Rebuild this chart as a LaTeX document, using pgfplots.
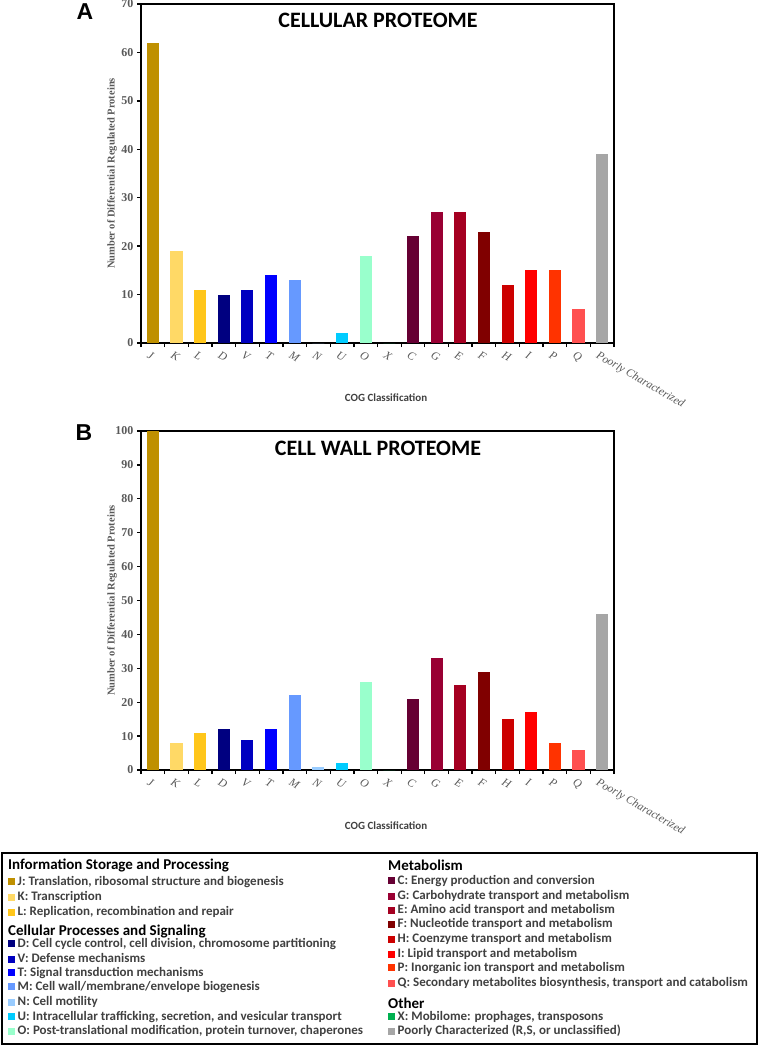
\documentclass[border=0pt]{standalone}
\usepackage{pgfplots}
\pgfplotsset{compat=1.18}
\usepackage{fontspec}
\setmainfont{Liberation Serif}
\newfontfamily\calfont{Carlito}
\newfontfamily\arialfont{Liberation Sans}

\definecolor{cJ}{HTML}{BF9000}
\definecolor{cK}{HTML}{FFD966}
\definecolor{cL}{HTML}{FFC61A}
\definecolor{cD}{HTML}{000080}
\definecolor{cV}{HTML}{0000C0}
\definecolor{cT}{HTML}{0000FF}
\definecolor{cM}{HTML}{6699FF}
\definecolor{cN}{HTML}{99CCFF}
\definecolor{cU}{HTML}{00CCFF}
\definecolor{cO}{HTML}{99FFCC}
\definecolor{cX}{HTML}{00B050}
\definecolor{cC}{HTML}{660033}
\definecolor{cG}{HTML}{990033}
\definecolor{cE}{HTML}{A50021}
\definecolor{cF}{HTML}{800000}
\definecolor{cH}{HTML}{CC0000}
\definecolor{cI}{HTML}{FF0000}
\definecolor{cP}{HTML}{FF3300}
\definecolor{cQ}{HTML}{FF5050}
\definecolor{cR}{HTML}{A6A6A6}
\definecolor{lbl}{HTML}{595959}
\definecolor{txt}{HTML}{404040}

\newcommand\cbar[3]{\addplot[ybar, bar width=0.51, bar shift=0pt, fill=#1, draw=none] coordinates {(#2,#3)};}

\pgfplotsset{
  cogaxis/.style={
    scale only axis, width=473bp, height=339bp, anchor=south west,
    xmin=-0.5, xmax=19.5, ymin=0,
    xtick={0,...,19},
    xticklabels={J,K,L,D,V,T,M,N,U,O,X,C,G,E,F,H,I,P,Q,Poorly Characterized},
    minor xtick={-0.5,0.5,...,19.5},
    every major x tick/.style={draw=none},
    tick align=outside,
    major tick length=4bp, minor tick length=4bp,
    xtick pos=bottom, ytick pos=left,
    axis line style={line width=1.8bp},
    every tick/.style={black, line width=1.3bp},
    minor tick style={black, line width=1.3bp},
    /pgf/number format/assume math mode=true,
    yticklabel style={font=\rmfamily\fontsize{12bp}{14bp}\selectfont\bfseries, text=lbl},
    xticklabel style={font=\rmfamily\fontsize{11.5bp}{13bp}\selectfont\itshape, text=lbl, rotate=-30, anchor=north west, xshift=-4bp, yshift=-1bp},
    ylabel={Number of Differential Regulated Proteins},
    ylabel style={at={(axis description cs:-0.061,0.5)}, anchor=center, font=\rmfamily\fontsize{10.5bp}{12bp}\selectfont\bfseries, text=lbl},
  }
}

\begin{document}
\begin{tikzpicture}
\useasboundingbox (0,0) rectangle (760bp,-1047bp);

% Panel A
\begin{axis}[cogaxis, at={(141bp,-343bp)}, ymax=70, ytick={0,10,...,70}]
\cbar{cJ}{0}{62}
\cbar{cK}{1}{19}
\cbar{cL}{2}{11}
\cbar{cD}{3}{10}
\cbar{cV}{4}{11}
\cbar{cT}{5}{14}
\cbar{cM}{6}{13}
\cbar{cN}{7}{0}
\cbar{cU}{8}{2}
\cbar{cO}{9}{18}
\cbar{cX}{10}{0}
\cbar{cC}{11}{22}
\cbar{cG}{12}{27}
\cbar{cE}{13}{27}
\cbar{cF}{14}{23}
\cbar{cH}{15}{12}
\cbar{cI}{16}{15}
\cbar{cP}{17}{15}
\cbar{cQ}{18}{7}
\cbar{cR}{19}{39}
\end{axis}

% Panel B
\begin{axis}[cogaxis, at={(141bp,-770bp)}, ymax=100, ytick={0,10,...,100}]
\cbar{cJ}{0}{100}
\cbar{cK}{1}{8}
\cbar{cL}{2}{11}
\cbar{cD}{3}{12}
\cbar{cV}{4}{9}
\cbar{cT}{5}{12}
\cbar{cM}{6}{22}
\cbar{cN}{7}{1}
\cbar{cU}{8}{2}
\cbar{cO}{9}{26}
\cbar{cX}{10}{0}
\cbar{cC}{11}{21}
\cbar{cG}{12}{33}
\cbar{cE}{13}{25}
\cbar{cF}{14}{29}
\cbar{cH}{15}{15}
\cbar{cI}{16}{17}
\cbar{cP}{17}{8}
\cbar{cQ}{18}{6}
\cbar{cR}{19}{46}
\end{axis}

% Panel letters and titles
\node[font=\arialfont\bfseries\fontsize{23bp}{26bp}\selectfont] at (85bp,-12bp) {A};
\node[font=\arialfont\bfseries\fontsize{23bp}{26bp}\selectfont] at (84bp,-433bp) {B};
\node[font=\calfont\bfseries\fontsize{22bp}{26bp}\selectfont] at (378bp,-20bp) {CELLULAR PROTEOME};
\node[font=\calfont\bfseries\fontsize{22bp}{26bp}\selectfont] at (378bp,-448bp) {CELL WALL PROTEOME};
\node[font=\calfont\bfseries\fontsize{11bp}{13bp}\selectfont, text=txt] at (386bp,-398bp) {COG Classification};
\node[font=\calfont\bfseries\fontsize{11bp}{13bp}\selectfont, text=txt] at (386bp,-826bp) {COG Classification};

% Legend box
\draw[line width=2bp] (2bp,-853bp) rectangle (757bp,-1044bp);
\tikzset{hd/.style={anchor=west, inner sep=0pt, font=\calfont\bfseries\fontsize{15bp}{17bp}\selectfont},
         it/.style={anchor=west, inner sep=0pt, font=\calfont\bfseries\fontsize{13bp}{15bp}\selectfont, text=txt}}
\newcommand\sq[1]{\textcolor{#1}{\rule{7bp}{7bp}}\hspace{2.5bp}}
\node[hd] at (8bp,-865bp) {Information Storage and Processing};
\node[it] at (8bp,-882bp) {\sq{cJ}J: Translation, ribosomal structure and biogenesis};
\node[it] at (8bp,-897bp) {\sq{cK}K: Transcription};
\node[it] at (8bp,-912bp) {\sq{cL}L: Replication, recombination and repair};
\node[hd] at (8bp,-931bp) {Cellular Processes and Signaling};
\node[it] at (8bp,-944bp) {\sq{cD}D: Cell cycle control, cell division, chromosome partitioning};
\node[it] at (8bp,-958bp) {\sq{cV}V: Defense mechanisms};
\node[it] at (8bp,-973bp) {\sq{cT}T: Signal transduction mechanisms};
\node[it] at (8bp,-987bp) {\sq{cM}M: Cell wall/membrane/envelope biogenesis};
\node[it] at (8bp,-1002bp) {\sq{cN}N: Cell motility};
\node[it] at (8bp,-1017bp) {\sq{cU}U: Intracellular trafficking, secretion, and vesicular transport};
\node[it] at (8bp,-1031bp) {\sq{cO}O: Post-translational modification, protein turnover, chaperones};

\node[hd] at (388bp,-865bp) {Metabolism};
\node[it] at (388bp,-881bp) {\sq{cC}C: Energy production and conversion};
\node[it] at (388bp,-896bp) {\sq{cG}G: Carbohydrate transport and metabolism};
\node[it] at (388bp,-910bp) {\sq{cE}E: Amino acid transport and metabolism};
\node[it] at (388bp,-924bp) {\sq{cF}F: Nucleotide transport and metabolism};
\node[it] at (388bp,-939bp) {\sq{cH}H: Coenzyme transport and metabolism};
\node[it] at (388bp,-954bp) {\sq{cI}I: Lipid transport and metabolism};
\node[it] at (388bp,-968bp) {\sq{cP}P: Inorganic ion transport and metabolism};
\node[it] at (388bp,-983bp) {\sq{cQ}Q: Secondary metabolites biosynthesis, transport and catabolism};
\node[hd] at (388bp,-1003bp) {Other};
\node[it] at (388bp,-1017bp) {\sq{cX}X: Mobilome: prophages, transposons};
\node[it] at (388bp,-1031bp) {\sq{cR}Poorly Characterized (R,S, or unclassified)};
\end{tikzpicture}
\end{document}
